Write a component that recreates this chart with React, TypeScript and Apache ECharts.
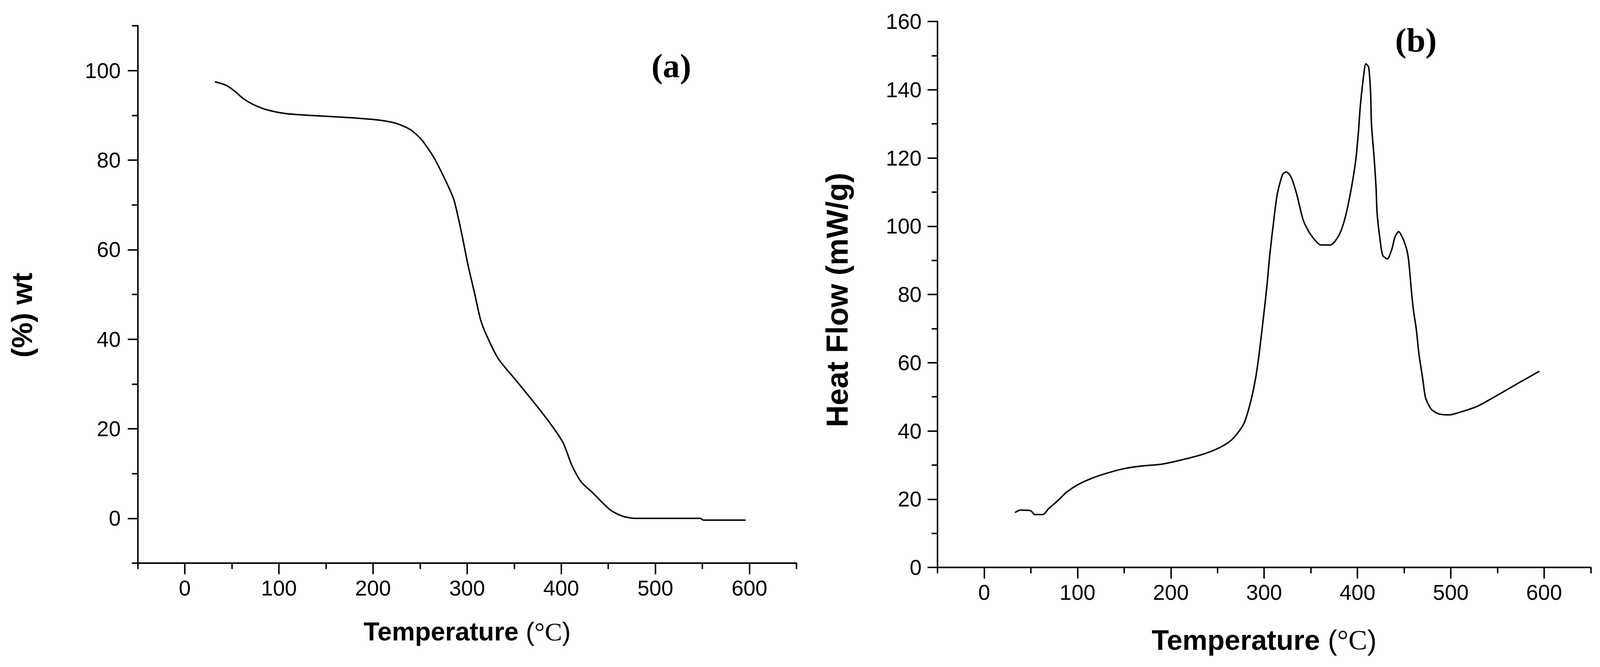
import React, { useEffect, useRef } from "react";
import * as echarts from "echarts";

// ---- Data ----
const tgaTemp = [32, 44, 53, 63, 75, 88, 107, 132, 174, 204, 223, 239, 251, 264, 276, 286, 295, 301, 308, 314, 320, 333, 352, 371, 389, 402, 411, 421, 433, 452, 465, 478, 548, 551, 596];
const tgaWeight = [97.5, 96.7, 95.4, 93.6, 92.2, 91.2, 90.4, 90.0, 89.5, 89.0, 88.3, 86.9, 84.7, 80.8, 75.9, 71.1, 62.8, 56.5, 50.2, 44.6, 41.2, 35.7, 30.8, 25.9, 21.0, 16.9, 12.0, 8.2, 5.8, 1.9, 0.5, 0.0, 0.0, -0.4, -0.4];

const dscTemp = [33, 39, 50, 54, 63, 69, 79, 88, 100, 115, 130, 149, 168, 191, 213, 236, 255, 266, 278, 285, 291, 295, 299, 303, 306, 310, 314, 320, 324, 329, 335, 342, 350, 361, 371, 380, 386, 392, 398, 401, 403, 406, 409, 412, 414, 415, 418, 420, 421, 424, 427, 432, 437, 440, 444, 449, 453, 455, 458, 460, 463, 466, 470, 473, 479, 487, 498, 510, 529, 547, 566, 582, 595];
const dscHeatFlow = [16.1, 16.8, 16.6, 15.5, 15.5, 17.2, 19.6, 22.0, 24.2, 26.1, 27.5, 28.9, 29.7, 30.3, 31.6, 33.3, 35.5, 37.6, 42.0, 48.0, 55.7, 63.4, 72.7, 82.5, 91.5, 101.0, 109.3, 115.3, 115.9, 114.3, 109.3, 101.7, 97.5, 94.5, 94.5, 97.3, 101.7, 109.0, 119.0, 127.5, 135, 142.7, 147.6, 146.6, 139.5, 130, 119.5, 111.0, 104.0, 96.5, 91.5, 90.4, 93.4, 96.7, 98.4, 96.2, 92.9, 89.6, 80.5, 75.4, 69.9, 62.3, 55.2, 49.7, 46.4, 45.0, 44.7, 45.5, 47.3, 50.0, 53.0, 55.5, 57.5];

const xMajorTicks = [0, 100, 200, 300, 400, 500, 600];
const xMinorTicks = [-50, 50, 150, 250, 350, 450, 550, 650];
const tgaMajorTicks = [0, 20, 40, 60, 80, 100];
const tgaMinorTicks = [-10, 10, 30, 50, 70, 90, 110];
const dscMajorTicks = [0, 20, 40, 60, 80, 100, 120, 140, 160];
const dscMinorTicks = [10, 30, 50, 70, 90, 110, 130, 150];

const SANS = "Liberation Sans, Arial, sans-serif";
const SERIF = "Liberation Serif, Times New Roman, serif";

// reference canvas size the layout was measured on
const REF_W = 4321;
const REF_H = 1708;

function zip(a: number[], b: number[]) {
  return a.map((v, i) => [v, b[i]]);
}

export default function App() {
  const ref = useRef<HTMLDivElement>(null);

  useEffect(() => {
    if (!ref.current) return;
    const el = ref.current;
    const W = el.clientWidth || REF_W;
    const H = el.clientHeight || REF_H;
    const sx = W / REF_W;
    const sy = H / REF_H;
    const s = Math.min(sx, sy);
    const X = (v: number) => v * sx;
    const Y = (v: number) => v * sy;
    const P = (v: number) => v * s;

    const chart = echarts.init(el, undefined, { renderer: "svg" });

    const majorAxis = (
      gridIndex: number,
      min: number,
      max: number,
      ticks: number[],
      tickLen: number,
      labelMargin: number,
      extra: any = {}
    ) => ({
      type: "value",
      gridIndex,
      min,
      max,
      splitLine: { show: false },
      axisLine: { show: true, onZero: false, lineStyle: { color: "#000", width: P(4) } },
      axisTick: { show: true, customValues: ticks, length: P(tickLen), lineStyle: { color: "#000", width: P(4) } },
      axisLabel: {
        show: true,
        customValues: ticks,
        margin: P(labelMargin),
        fontSize: P(58),
        color: "#000",
        fontFamily: SANS,
      },
      ...extra,
    });

    const minorAxis = (gridIndex: number, min: number, max: number, ticks: number[], tickLen: number, extra: any = {}) => ({
      type: "value",
      gridIndex,
      min,
      max,
      splitLine: { show: false },
      axisLine: { show: false, onZero: false },
      axisTick: { show: true, customValues: ticks, length: P(tickLen), lineStyle: { color: "#000", width: P(4) } },
      axisLabel: { show: false },
      ...extra,
    });

    const tempName = (fs: number, gap: number) => ({
      name: "{b|Temperature }{r|(}{s|°C}{r|)}",
      nameLocation: "middle",
      nameGap: P(gap),
      nameTextStyle: {
        rich: {
          b: { fontFamily: SANS, fontWeight: "bold", fontSize: P(fs), color: "#000" },
          r: { fontFamily: SANS, fontWeight: "normal", fontSize: P(fs), color: "#000" },
          s: { fontFamily: SERIF, fontWeight: "normal", fontSize: P(fs), color: "#000" },
        },
      },
    });

    const label = (text: string, x: number, y: number, fs: number, family: string, rotate: boolean) => ({
      type: "text",
      x: X(x),
      y: Y(y),
      rotation: rotate ? Math.PI / 2 : 0,
      style: {
        text,
        fontFamily: family,
        fontWeight: "bold",
        fontSize: P(fs),
        fill: "#000",
        align: "center",
        verticalAlign: "middle",
      },
    });

    const option: any = {
      animation: false,
      backgroundColor: "#fff",
      grid: [
        { left: X(372), top: Y(66), width: X(1779), height: Y(1376) },
        { left: X(2532), top: Y(55), width: X(1764), height: Y(1398) },
      ],
      xAxis: [
        majorAxis(0, -50, 650, xMajorTicks, 30, 38, { position: "bottom", ...tempName(70, 150) }),
        minorAxis(0, -50, 650, xMinorTicks, 16, { position: "bottom" }),
        majorAxis(1, -50, 650, xMajorTicks, 30, 38, { position: "bottom", ...tempName(76, 158) }),
        minorAxis(1, -50, 650, xMinorTicks, 16, { position: "bottom" }),
      ],
      yAxis: [
        majorAxis(0, -10, 110, tgaMajorTicks, 27, 46, { position: "left" }),
        minorAxis(0, -10, 110, tgaMinorTicks, 16, { position: "left" }),
        majorAxis(1, 0, 160, dscMajorTicks, 27, 43, { position: "left" }),
        minorAxis(1, 0, 160, dscMinorTicks, 16, { position: "left" }),
      ],
      series: [
        {
          type: "line",
          name: "TGA",
          xAxisIndex: 0,
          yAxisIndex: 0,
          data: zip(tgaTemp, tgaWeight),
          showSymbol: false,
          smooth: 0.25,
          lineStyle: { color: "#000", width: P(4) },
          silent: true,
        },
        {
          type: "line",
          name: "DSC",
          xAxisIndex: 2,
          yAxisIndex: 2,
          data: zip(dscTemp, dscHeatFlow),
          showSymbol: false,
          smooth: 0.25,
          lineStyle: { color: "#000", width: P(4) },
          silent: true,
        },
      ],
      graphic: [
        label("(%) wt", 60, 807, 78, SANS, true),
        label("Heat Flow (mW/g)", 2261, 768, 82, SANS, true),
        label("(a)", 1813, 168, 92, SERIF, false),
        label("(b)", 3824, 102, 92, SERIF, false),
      ],
    };

    chart.setOption(option);
    return () => chart.dispose();
  }, []);

  return (
    <div
      ref={ref}
      style={{ position: "fixed", left: 0, top: 0, width: "100vw", height: "100vh", background: "#fff" }}
    />
  );
}
